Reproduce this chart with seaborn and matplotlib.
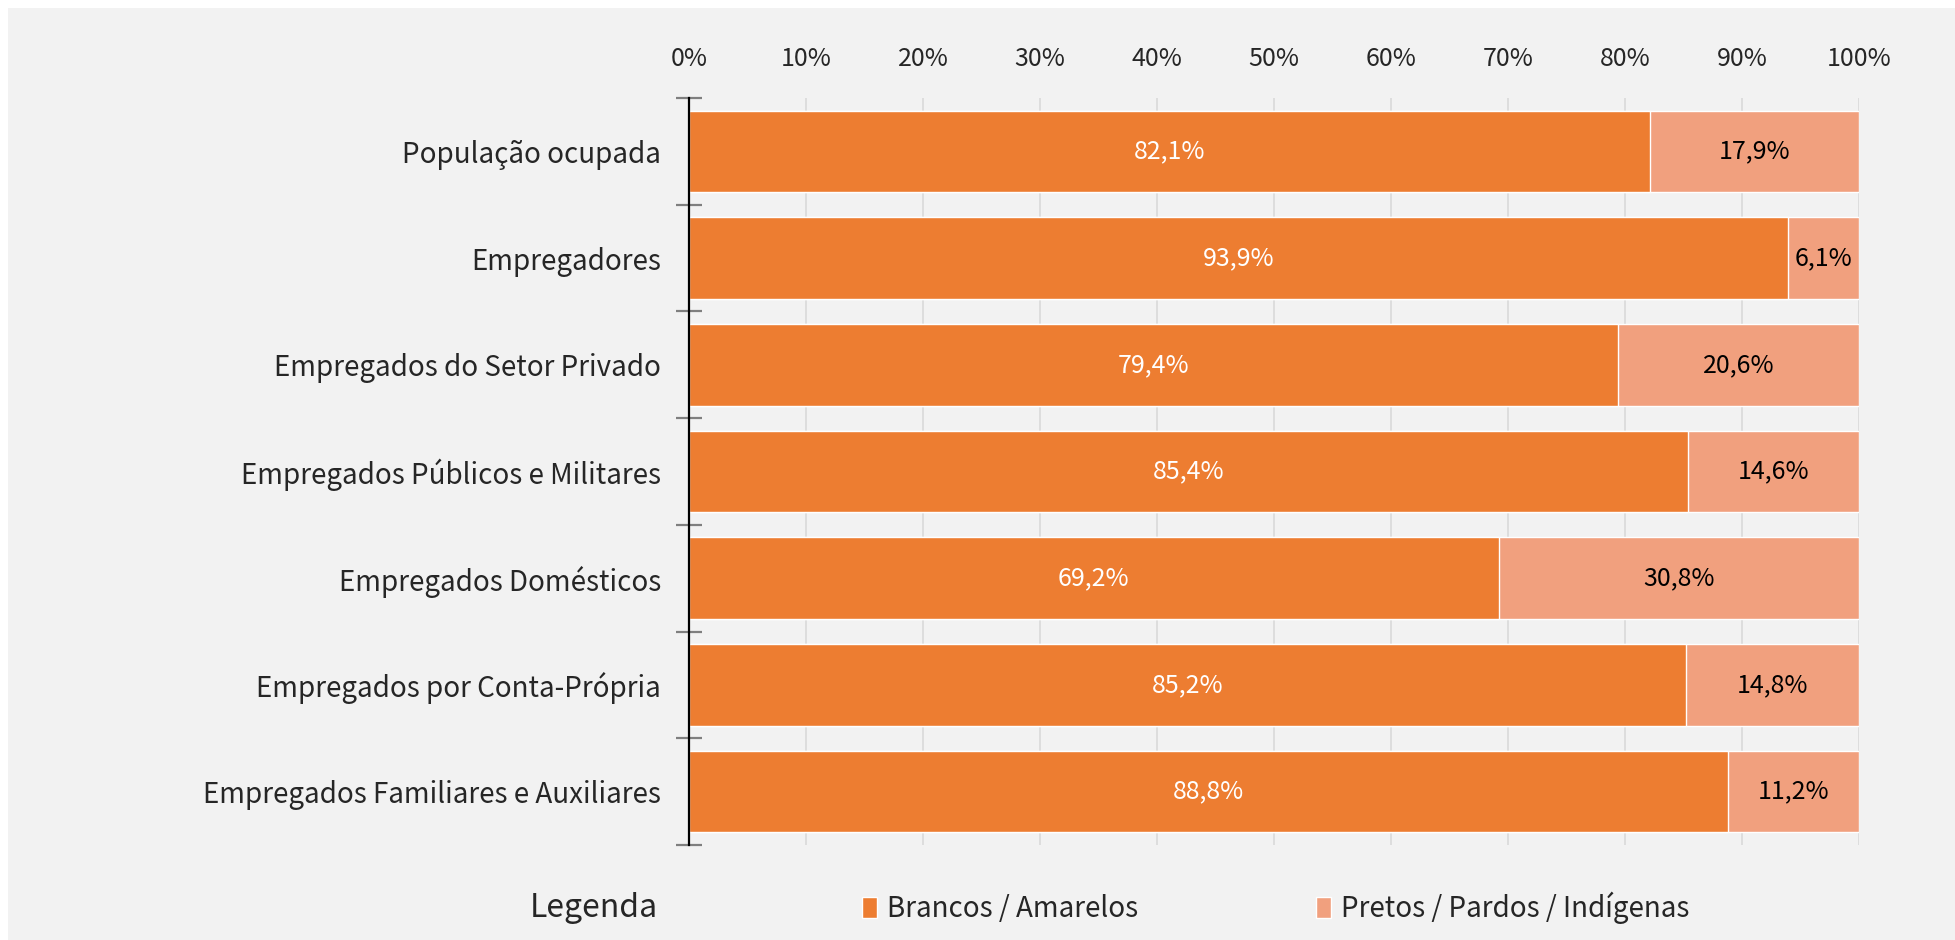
import matplotlib
matplotlib.use('Agg')
import matplotlib.pyplot as plt
from matplotlib.patches import Rectangle, Patch
from matplotlib.ticker import FixedLocator, PercentFormatter
import seaborn as sns
import pandas as pd

# data
categorias = [
    'População ocupada',
    'Empregadores',
    'Empregados do Setor Privado',
    'Empregados Públicos e Militares',
    'Empregados Domésticos',
    'Empregados por Conta-Própria',
    'Empregados Familiares e Auxiliares',
]
brancos_amarelos = [82.1, 93.9, 79.4, 85.4, 69.2, 85.2, 88.8]
pretos_pardos_indigenas = [17.9, 6.1, 20.6, 14.6, 30.8, 14.8, 11.2]
x_ticks = [0, 10, 20, 30, 40, 50, 60, 70, 80, 90, 100]

cor_brancos = '#ED7D31'
cor_pretos = '#F1A07E'
fundo = '#F2F2F2'

df = pd.DataFrame({
    'categoria': categorias,
    'brancos': brancos_amarelos,
    'pretos': pretos_pardos_indigenas,
})
df['total'] = df['brancos'] + df['pretos']

sns.set_style('white')
plt.rcParams['font.family'] = ['Noto Sans CJK JP', 'DejaVu Sans']
plt.rcParams['font.size'] = 18

fig = plt.figure(figsize=(19.55, 9.4), dpi=100)
fig.patch.set_facecolor('white')
fig.patches.append(Rectangle((8 / 1955, 0), 1 - 8 / 1955, 1 - 8 / 940,
                             transform=fig.transFigure, facecolor=fundo,
                             edgecolor='none', zorder=-10))

ax = fig.add_axes([689 / 1955, 95 / 940, 1170 / 1955, 747 / 940])
ax.set_facecolor(fundo)

# stacked bars: full length in light colour, first segment on top
sns.barplot(data=df, x='total', y='categoria', color=cor_pretos,
            width=0.765, saturation=1, ax=ax, zorder=2)
sns.barplot(data=df, x='brancos', y='categoria', color=cor_brancos,
            width=0.765, saturation=1, ax=ax, zorder=3)

fmt = lambda v: f'{v:.1f}%'.replace('.', ',')

ax.bar_label(ax.containers[1], labels=[fmt(v) for v in df['brancos']],
             label_type='center', color='white', fontsize=18, zorder=4)
for i, (b, p) in enumerate(zip(df['brancos'], df['pretos'])):
    ax.text(b + p / 2, i, fmt(p), ha='center', va='center',
            color='black', fontsize=18, zorder=4)

ax.set_xlim(0, 100)
ax.set_ylim(6.5, -0.5)
ax.set_xlabel('')
ax.set_ylabel('')

# x axis on top, percentage labels, vertical grid
ax.xaxis.tick_top()
ax.set_xticks(x_ticks)
ax.xaxis.set_major_formatter(PercentFormatter(decimals=0))
ax.tick_params(axis='x', length=0, pad=19, labelsize=18, colors='#262626')
ax.grid(axis='x', color='#D9D9D9', linewidth=1.2, zorder=0)
ax.set_axisbelow(True)

# category labels, cross ticks at band boundaries
ax.tick_params(axis='y', which='major', length=0, pad=20, labelsize=20,
               colors='#262626')
ax.yaxis.set_minor_locator(FixedLocator([i - 0.5 for i in range(len(categorias) + 1)]))
ax.tick_params(axis='y', which='minor', length=19, width=1.6,
               direction='inout', color='#7F7F7F', left=True)

for s in ['top', 'right', 'bottom']:
    ax.spines[s].set_visible(False)
ax.spines['left'].set_color('black')
ax.spines['left'].set_linewidth(1.6)
ax.spines['left'].set_zorder(5)

# legend
fig.text(530 / 1955, 1 - 908 / 940, 'Legenda', fontsize=23, ha='left',
         va='center', color='#262626')
handles = [Patch(facecolor=cor_brancos, label='Brancos / Amarelos'),
           Patch(facecolor=cor_pretos, label='Pretos / Pardos / Indígenas')]
fig.legend(handles=handles, loc='center left',
           bbox_to_anchor=(862 / 1955, 1 - 908 / 940), ncol=2, frameon=False,
           fontsize=20, handlelength=0.55, handleheight=0.75, handletextpad=0.35,
           columnspacing=6.4, borderpad=0, borderaxespad=0,
           labelcolor='#262626')

fig.savefig('out.png', dpi=100, facecolor='white')
